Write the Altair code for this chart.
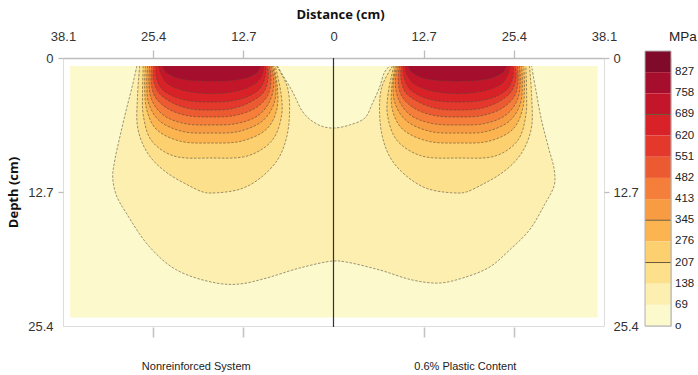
import altair as alt
import pandas as pd

# ---------------- axis / label data ----------------
top_tick_values = [-38.1, -25.4, -12.7, 0, 12.7, 25.4, 38.1]
depth_tick_values = [0, 12.7, 25.4]
bottom_tick_values = [-25.4, -12.7, 12.7, 25.4]
panel_names = ["Nonreinforced System", "0.6% Plastic Content"]
panel_centers = [-19.4, 18.5]

mesh_x = [-37.1, 37.2]          # extent of the coloured mesh (cm)
mesh_depth = [0.76, 24.6]
divider_x = [0]
divider_depth = [0, 25.5]

# stress bands (lower bound of band, MPa) and colours
level_names = ["0", "69", "138", "207", "276", "345", "413", "482", "551", "620", "689", "758"]
level_colors = ["#fcf9cd", "#fcefb0", "#fde08b", "#fdd06f", "#fbb450", "#f89c44",
                "#f47e3a", "#ec5a32", "#e4382c", "#d92228", "#c4162a", "#a50f2d"]

legend_labels = ["827", "758", "689", "620", "551", "482", "413", "345", "276", "207", "138", "69", "o"]
legend_colors = ["#800a2a", "#a50f2d", "#c4162a", "#d92228", "#e4382c", "#ec5a32", "#f47e3a",
                 "#f89c44", "#fbb450", "#fdd06f", "#fde08b", "#fcefb0", "#fcf9cd"]
legend_marked = ["689", "345", "207"]

# ---------------- contour outlines (x cm, depth cm) ----------------
c69_both = [(-27.7, 0.76), (-28.3, 2.56), (-29.2, 4.93), (-30.1, 7.49), (-30.8, 9.67), (-31.1, 11.28),
            (-30.6, 12.99), (-29.2, 14.69), (-25.9, 17.91), (-22.1, 20.09), (-16.5, 21.33), (-13.2, 21.42),
            (-9.4, 20.85), (-4.8, 19.91), (0.0, 19.24), (1.8, 19.34), (6.5, 20.09), (11.1, 21.04),
            (14.9, 21.33), (18.2, 20.85), (22.0, 19.81), (24.8, 18.2), (27.6, 16.3), (29.7, 13.93),
            (31.1, 12.04), (31.1, 10.62), (30.3, 8.53), (29.3, 5.88), (28.5, 3.03), (27.9, 0.76)]
notch_0 = [(-7.9, 0.76), (-6.9, 1.90), (-5.9, 3.03), (-5.2, 3.98), (-4.5, 4.93), (-3.4, 5.78), (-1.7, 6.45),
           (0.0, 6.64), (2.25, 6.35), (4.4, 5.69), (5.5, 4.27), (6.5, 2.75), (7.2, 1.33), (7.9, 0.76)]

left_138 = [(-27.3, 0.76), (-27.6, 3.51), (-27.6, 6.54), (-26.6, 8.53), (-25.2, 9.86), (-23.2, 11.0),
            (-20.8, 11.94), (-18.4, 12.7), (-17.3, 12.8), (-13.1, 12.42), (-10.3, 11.37), (-7.9, 9.67),
            (-6.7, 7.77), (-6.2, 5.40), (-6.5, 2.75), (-8.0, 0.76)]
right_138 = [(8.3, 0.76), (6.8, 2.75), (6.5, 5.40), (7.0, 7.77), (8.2, 9.67), (10.6, 11.37), (13.4, 12.42),
             (17.6, 12.8), (18.7, 12.7), (21.1, 11.94), (23.5, 11.0), (25.5, 9.86), (26.9, 8.53),
             (27.9, 6.54), (27.9, 3.51), (27.6, 0.76)]
left_207 = [(-26.8, 0.76), (-26.9, 3.32), (-26.8, 5.40), (-25.7, 7.77), (-22.7, 9.24), (-17.3, 9.48),
            (-11.9, 9.24), (-8.6, 7.77), (-7.3, 5.40), (-7.4, 3.32), (-8.2, 0.76)]
right_207 = [(8.5, 0.76), (7.7, 3.32), (7.6, 5.40), (8.9, 7.77), (12.2, 9.24), (17.6, 9.48), (23.0, 9.24),
             (26.0, 7.77), (27.1, 5.40), (27.2, 3.32), (27.1, 0.76)]
left_276 = [(-26.5, 0.76), (-26.6, 2.75), (-26.3, 4.93), (-25.0, 6.73), (-21.7, 7.87), (-17.3, 8.06),
            (-12.9, 7.87), (-9.4, 6.73), (-8.0, 4.93), (-7.9, 2.75), (-8.4, 0.76)]
right_276 = [(8.7, 0.76), (8.2, 2.75), (8.3, 4.93), (9.7, 6.73), (13.2, 7.87), (17.6, 8.06), (22.0, 7.87),
             (25.3, 6.73), (26.6, 4.93), (26.9, 2.75), (26.8, 0.76)]
left_345 = [(-26.2, 0.76), (-26.3, 2.46), (-26.0, 4.36), (-24.5, 5.97), (-21.2, 6.97), (-17.3, 7.11),
            (-13.4, 6.97), (-10.0, 5.97), (-8.4, 4.36), (-8.1, 2.46), (-8.6, 0.76)]
right_345 = [(8.9, 0.76), (8.4, 2.46), (8.7, 4.36), (10.3, 5.97), (13.7, 6.97), (17.6, 7.11), (21.5, 6.97),
             (24.8, 5.97), (26.3, 4.36), (26.6, 2.46), (26.5, 0.76)]
left_413 = [(-25.9, 0.76), (-26.0, 2.27), (-25.6, 3.98), (-24.0, 5.40), (-21.0, 6.21), (-17.3, 6.35),
            (-13.6, 6.21), (-10.5, 5.40), (-8.9, 3.98), (-8.4, 2.27), (-8.8, 0.76)]
right_413 = [(9.1, 0.76), (8.7, 2.27), (9.2, 3.98), (10.8, 5.40), (13.9, 6.21), (17.6, 6.35), (21.3, 6.21),
             (24.3, 5.40), (25.9, 3.98), (26.3, 2.27), (26.2, 0.76)]
left_482 = [(-25.6, 0.76), (-25.7, 2.09), (-25.2, 3.60), (-23.5, 4.74), (-20.7, 5.45), (-17.3, 5.59),
            (-13.9, 5.45), (-11.0, 4.74), (-9.3, 3.60), (-8.8, 2.09), (-9.0, 0.76)]
right_482 = [(9.3, 0.76), (9.1, 2.09), (9.6, 3.60), (11.3, 4.74), (14.2, 5.45), (17.6, 5.59), (21.0, 5.45),
             (23.8, 4.74), (25.5, 3.60), (26.0, 2.09), (25.9, 0.76)]
left_551 = [(-25.3, 0.76), (-25.4, 1.90), (-24.7, 3.22), (-22.9, 4.17), (-20.4, 4.79), (-17.3, 4.93),
            (-14.2, 4.79), (-11.7, 4.17), (-9.8, 3.22), (-9.2, 1.90), (-9.25, 0.76)]
right_551 = [(9.55, 0.76), (9.5, 1.90), (10.1, 3.22), (12.0, 4.17), (14.5, 4.79), (17.6, 4.93), (20.7, 4.79),
             (23.2, 4.17), (25.0, 3.22), (25.7, 1.90), (25.6, 0.76)]
left_620 = [(-25.0, 0.76), (-25.0, 1.71), (-24.3, 2.84), (-22.7, 3.60), (-20.1, 4.08), (-17.3, 4.17),
            (-14.5, 4.08), (-11.9, 3.60), (-10.3, 2.84), (-9.6, 1.71), (-9.5, 0.76)]
right_620 = [(9.8, 0.76), (9.9, 1.71), (10.6, 2.84), (12.2, 3.60), (14.8, 4.08), (17.6, 4.17), (20.4, 4.08),
             (23.0, 3.60), (24.6, 2.84), (25.3, 1.71), (25.3, 0.76)]
left_689 = [(-24.6, 0.76), (-24.3, 1.52), (-23.5, 2.37), (-21.8, 2.94), (-19.6, 3.27), (-17.2, 3.36),
            (-14.8, 3.27), (-12.6, 2.94), (-10.9, 2.37), (-10.0, 1.52), (-9.8, 0.76)]
right_689 = [(10.1, 0.76), (10.3, 1.52), (11.2, 2.37), (12.9, 2.94), (15.1, 3.27), (17.5, 3.36), (19.9, 3.27),
             (22.1, 2.94), (23.8, 2.37), (24.6, 1.52), (24.9, 0.76)]
left_758 = [(-24.1, 0.76), (-23.6, 1.33), (-22.2, 1.85), (-20.1, 2.12), (-17.1, 2.2), (-14.2, 2.12),
            (-12.1, 1.85), (-10.7, 1.33), (-10.2, 0.76)]
right_758 = [(10.5, 0.76), (11.0, 1.33), (12.4, 1.85), (14.5, 2.12), (17.4, 2.2), (20.4, 2.12), (22.5, 1.85),
             (23.9, 1.33), (24.4, 0.76)]

regions = [
    ("69", c69_both), ("0", notch_0),
    ("138", left_138), ("138", right_138),
    ("207", left_207), ("207", right_207),
    ("276", left_276), ("276", right_276),
    ("345", left_345), ("345", right_345),
    ("413", left_413), ("413", right_413),
    ("482", left_482), ("482", right_482),
    ("551", left_551), ("551", right_551),
    ("620", left_620), ("620", right_620),
    ("689", left_689), ("689", right_689),
    ("758", left_758), ("758", right_758),
]

# ---------------- scales ----------------
LABEL_FONT = "Liberation Sans"
TITLE_FONT = "Open Sans"

xs = alt.Scale(domain=[-38.1, 38.1], nice=False, zero=False)
ys = alt.Scale(domain=[0, 25.4], reverse=True, nice=False, zero=False)
cs = alt.Scale(domain=level_names, range=level_colors)

zero_fmt = "datum.value == 0 ? '0' : format(abs(datum.value), '.1f')"

top_axis = alt.Axis(
    orient="top", values=top_tick_values, labelExpr=zero_fmt, title="Distance (cm)",
    titleFont=TITLE_FONT, titleFontWeight="bold", titleFontSize=13, titleColor="#111",
    titlePadding=9, titleX=277,
    labelFont=LABEL_FONT, labelFontSize=13, labelColor="#333", labelPadding=7, labelFlush=False,
    tickSize=8, tickWidth=1.3, tickColor="#bdbdbd",
    tickOpacity=alt.condition("abs(datum.value) > 1 && abs(datum.value) < 30", alt.value(1), alt.value(0)),
    domainColor="#bdbdbd", domainWidth=1.3, grid=False,
)
left_axis = alt.Axis(
    orient="left", values=depth_tick_values, labelExpr=zero_fmt, title="Depth (cm)",
    titleFont=TITLE_FONT, titleFontWeight="bold", titleFontSize=13, titleColor="#111", titlePadding=7,
    labelFont=LABEL_FONT, labelFontSize=13, labelColor="#333", labelPadding=5,
    tickSize=5, tickWidth=1.3, tickColor="#bdbdbd",
    tickOpacity=alt.condition("datum.value < 20", alt.value(1), alt.value(0)),
    domain=False, grid=False,
)
right_axis = alt.Axis(
    orient="right", values=depth_tick_values, labelExpr=zero_fmt, title=None,
    labelFont=LABEL_FONT, labelFontSize=13, labelColor="#333", labelPadding=4,
    tickSize=5, tickWidth=1.3, tickColor="#bdbdbd",
    tickOpacity=alt.condition("datum.value < 20", alt.value(1), alt.value(0)),
    domain=False, grid=False,
)
label_expr = ("datum.value == %r ? '%s' : datum.value == %r ? '%s' : ''"
              % (panel_centers[0], panel_names[0], panel_centers[1], panel_names[1]))
tick_test = "indexof(%s, datum.value) >= 0" % str(bottom_tick_values)
bottom_axis = alt.Axis(
    orient="bottom", values=sorted(bottom_tick_values + panel_centers), labelExpr=label_expr, title=None,
    labelFont=LABEL_FONT, labelFontSize=11, labelColor="#222", labelPadding=23,
    labelOverlap=False, labelFlush=False, labelBound=False,
    tickSize=10, tickWidth=1.6, tickColor="#c4c4c4", offset=1,
    tickOpacity=alt.condition(tick_test, alt.value(1), alt.value(0)),
    domain=False, grid=False,
)

# ---------------- layers ----------------
mesh_df = pd.DataFrame({"x0": [mesh_x[0]], "x1": [mesh_x[1]], "d0": [mesh_depth[0]],
                        "d1": [mesh_depth[1]], "level": ["0"]})
background = alt.Chart(mesh_df).mark_rect().encode(
    x=alt.X("x0:Q", scale=xs, axis=top_axis), x2="x1:Q",
    y=alt.Y("d0:Q", scale=ys, axis=left_axis), y2="d1:Q",
    color=alt.Color("level:N", scale=cs, legend=None),
)

layers = [background]
for level, pts in regions:
    df = pd.DataFrame({"x": [p[0] for p in pts], "d": [p[1] for p in pts],
                       "i": list(range(len(pts))), "level": level})
    layers.append(
        alt.Chart(df).mark_line(
            filled=True, interpolate="catmull-rom", stroke="#4d4636", strokeWidth=0.8,
            strokeDash=[2.5, 1.5], strokeOpacity=0.7,
        ).encode(
            x=alt.X("x:Q", scale=xs, axis=None),
            y=alt.Y("d:Q", scale=ys, axis=None),
            order="i:Q",
            color=alt.Color("level:N", scale=cs, legend=None),
        )
    )

div_df = pd.DataFrame({"x": divider_x, "d0": [divider_depth[0]], "d1": [divider_depth[1]]})
divider = alt.Chart(div_df).mark_rule(color="#333", strokeWidth=1.2).encode(
    x=alt.X("x:Q", scale=xs, axis=bottom_axis),
    y=alt.Y("d0:Q", scale=ys, axis=right_axis), y2="d1:Q",
)
layers.append(divider)

main = alt.layer(*layers).resolve_axis(x="independent", y="independent").properties(width=541, height=268)

# ---------------- legend panel ----------------
leg_df = pd.DataFrame({"label": legend_labels, "top": list(range(len(legend_labels))),
                       "bot": list(range(1, len(legend_labels) + 1)), "x0": 0, "x1": 1})
lx = alt.Scale(domain=[0, 1], nice=False, zero=False)
ly = alt.Scale(domain=[0.33, len(legend_labels)], reverse=True, nice=False, zero=False)

leg_rects = alt.Chart(leg_df).mark_rect().encode(
    x=alt.X("x0:Q", scale=lx, axis=None), x2="x1:Q",
    y=alt.Y("top:Q", scale=ly, axis=None), y2="bot:Q",
    color=alt.Color("label:N", scale=alt.Scale(domain=legend_labels, range=legend_colors), legend=None),
)
leg_lines = alt.Chart(leg_df).transform_filter(
    alt.FieldOneOfPredicate(field="label", oneOf=legend_marked)
).mark_rule(color="#6b5a3a", strokeWidth=1).encode(
    x=alt.X("x0:Q", scale=lx, axis=None), x2="x1:Q",
    y=alt.Y("bot:Q", scale=ly, axis=None),
)
outline_df = pd.DataFrame({"x0": [0], "x1": [1], "t": [0], "b": [len(legend_labels)]})
leg_outline = alt.Chart(outline_df).mark_rect(fill=None, stroke="#b0b0b0", strokeWidth=1).encode(
    x=alt.X("x0:Q", scale=lx, axis=None), x2="x1:Q",
    y=alt.Y("t:Q", scale=ly, axis=None), y2="b:Q",
)
leg_text = alt.Chart(leg_df).mark_text(
    align="left", baseline="middle", dx=4, font=LABEL_FONT, fontSize=11.5, color="#222"
).encode(
    x=alt.X("x1:Q", scale=lx, axis=None),
    y=alt.Y("bot:Q", scale=ly, axis=None),
    text="label:N",
)
unit_df = pd.DataFrame({"x": [1], "y": [0], "t": ["MPa"]})
leg_title = alt.Chart(unit_df).mark_text(
    align="left", baseline="middle", dx=-2, dy=-14, font=LABEL_FONT, fontSize=13.5, color="#222"
).encode(
    x=alt.X("x:Q", scale=lx, axis=None),
    y=alt.Y("y:Q", scale=ly, axis=None),
    text="t:N",
)
legend = alt.layer(leg_rects, leg_lines, leg_outline, leg_text, leg_title).properties(width=26, height=268)

chart = alt.hconcat(main, legend, spacing=5).resolve_scale(color="independent").properties(
    padding={"left": 7, "top": 7, "right": 0, "bottom": 0}
).configure_view(stroke=None).configure(background="white")

chart.save("out.html", embed_options={"renderer": "svg", "actions": False})
